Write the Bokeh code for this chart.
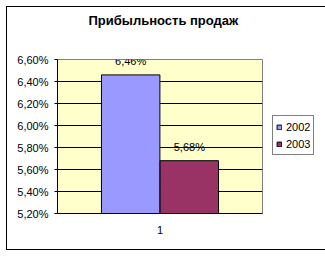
from bokeh.plotting import figure
from bokeh.models import (ColumnDataSource, Range1d, FactorRange, FixedTicker, Legend,
                          LegendItem, LabelSet, Title)
from bokeh.core.properties import value
from bokeh.transform import dodge
from bokeh.embed import file_html
from bokeh.resources import INLINE

# ---- data ----
title_text = "Прибыльность продаж"
categories = ["1"]
series = ["2002", "2003"]
values_2002 = [6.46]
values_2003 = [5.68]
series_colors = ["#9999FF", "#993366"]
y_ticks = [5.20, 5.40, 5.60, 5.80, 6.00, 6.20, 6.40, 6.60]
y_tick_labels = ["5,20%", "5,40%", "5,60%", "5,80%", "6,00%", "6,20%", "6,40%", "6,60%"]

FONT = "Liberation Sans"

def fmt(v):
    return ("%.2f%%" % v).replace(".", ",")

y_min, y_max = y_ticks[0], y_ticks[-1]

p = figure(frame_width=205, frame_height=154, x_range=FactorRange(*categories),
           y_range=Range1d(y_min, y_max), output_backend="svg", toolbar_location=None,
           min_border_left=50, min_border_right=53, min_border_top=52, min_border_bottom=36,
           margin=(6, 0, 0, 6), styles={"border": "1px solid black"})

p.background_fill_color = "#FFFFCC"
p.border_fill_color = "white"
p.outline_line_color = "#808080"
p.outline_line_width = 1

# title placed at the top of the chart area: a blank spacer panel sits between it and the frame
p.title.text = ""
spacer = Title(text=" ", text_font_size="1px", standoff=29)
p.add_layout(spacer, "above")
main_title = Title(text=title_text, align="left", offset=31, standoff=0,
                   text_font=FONT, text_font_size="13px", text_font_style="bold",
                   text_color="black")
p.add_layout(main_title, "above")

bar_w = 0.285
offs = [-0.143, 0.143]
vals = [values_2002, values_2003]
renderers = []
for name, v, off, col in zip(series, vals, offs, series_colors):
    src = ColumnDataSource(dict(x=categories, top=v, bottom=[y_min] * len(v),
                                text=[fmt(t) for t in v]))
    r = p.vbar(x=dodge("x", off, range=p.x_range), top="top", bottom="bottom", width=bar_w,
               source=src, fill_color=col, line_color="black", line_width=1)
    renderers.append((name, r))
    lbl = LabelSet(x=dodge("x", off, range=p.x_range), y="top", text="text", source=src,
                   y_offset=9.5, text_align="center", text_baseline="alphabetic",
                   text_font=value(FONT), text_font_size=value("11px"),
                   text_color=value("black"))
    p.add_layout(lbl)

# axes
p.yaxis.ticker = FixedTicker(ticks=y_ticks)
p.yaxis.major_label_overrides = {t: l for t, l in zip(y_ticks, y_tick_labels)}
p.yaxis.major_label_text_font = FONT
p.yaxis.major_label_text_font_size = "11px"
p.yaxis.major_label_text_color = "black"
p.yaxis.axis_line_color = "black"
p.yaxis.major_tick_line_color = "black"
p.yaxis.major_tick_in = 0
p.yaxis.major_tick_out = 3
p.yaxis.minor_tick_line_color = None
p.yaxis.major_label_standoff = 6

p.xaxis.major_label_text_font = FONT
p.xaxis.major_label_text_font_size = "11px"
p.xaxis.major_label_text_color = "black"
p.xaxis.axis_line_color = "black"
p.xaxis.major_tick_line_color = None
p.xaxis.major_tick_in = 0
p.xaxis.major_tick_out = 0
p.xaxis.major_label_standoff = 12

p.xgrid.grid_line_color = None
p.ygrid.grid_line_color = "black"
p.ygrid.grid_line_alpha = 1.0
p.ygrid.ticker = FixedTicker(ticks=y_ticks)

legend = Legend(items=[LegendItem(label=n, renderers=[r]) for n, r in renderers],
                location=(10, 58), orientation="vertical")
legend.label_text_font = FONT
legend.label_text_font_size = "11px"
legend.label_text_color = "black"
legend.glyph_width = 6
legend.glyph_height = 6
legend.label_height = 15
legend.label_standoff = 4
legend.spacing = 2
legend.padding = 3
legend.margin = 0
legend.border_line_color = "black"
legend.border_line_width = 1
legend.background_fill_color = "white"
p.add_layout(legend, "right")

open("out.html", "w").write(file_html(p, INLINE))
